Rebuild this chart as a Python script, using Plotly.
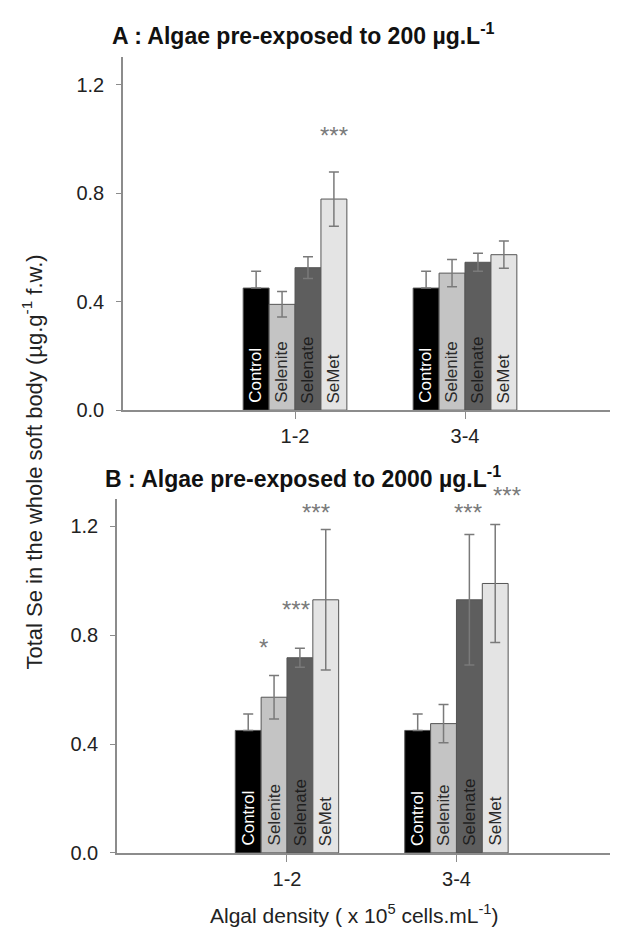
import plotly.graph_objects as go

# ---------------- data ----------------
groups = [1, 2]
group_labels = ["1-2", "3-4"]
treatments = ["Control", "Selenite", "Selenate", "SeMet"]

# Panel A : algae pre-exposed to 200 µg/L
a_values = {
    "Control": [0.45, 0.45],
    "Selenite": [0.39, 0.505],
    "Selenate": [0.525, 0.545],
    "SeMet": [0.778, 0.573],
}
a_errors = {
    "Control": [0.062, 0.062],
    "Selenite": [0.047, 0.05],
    "Selenate": [0.04, 0.033],
    "SeMet": [0.10, 0.05],
}
# Panel B : algae pre-exposed to 2000 µg/L
b_values = {
    "Control": [0.45, 0.45],
    "Selenite": [0.572, 0.475],
    "Selenate": [0.717, 0.93],
    "SeMet": [0.93, 0.99],
}
b_errors = {
    "Control": [0.06, 0.06],
    "Selenite": [0.08, 0.07],
    "Selenate": [0.035, 0.24],
    "SeMet": [0.258, 0.217],
}
# significance marks: (treatment, group index, text, y level)
a_stars = [("SeMet", 0, "***", 0.995)]
b_stars = [
    ("Selenite", 0, "*", 0.735),
    ("Selenate", 0, "***", 0.876),
    ("SeMet", 0, "***", 1.234),
    ("Selenate", 1, "***", 1.232),
    ("SeMet", 1, "***", 1.295),
]
a_star_shift = [0]
b_star_shift = [-11, -4, -10, -1, 12]

y_ticks = [0.0, 0.4, 0.8, 1.2]

# ---------------- style ----------------
FONT = "Liberation Sans, Arial, sans-serif"
bar_colors = {"Control": "#000000", "Selenite": "#c4c4c4", "Selenate": "#5e5e5e", "SeMet": "#e4e4e4"}
label_colors = {"Control": "#ffffff", "Selenite": "#2a2a2a", "Selenate": "#1e1e1e", "SeMet": "#2a2a2a"}
AXIS_COLOR = "#8c8c8c"
ERR_COLOR = "#7a7a7a"
TEXT_COLOR = "#222222"
BARGAP = 0.39
W, H = 618, 929

fig = go.Figure()
bar_w = (1 - BARGAP) / len(treatments)
annotations = []


def bar_center(t, gi):
    i = treatments.index(t)
    return groups[gi] + (i - (len(treatments) - 1) / 2) * bar_w


def add_panel(values, errors, xa, ya):
    for t in treatments:
        err = dict(type="data", array=errors[t], color=ERR_COLOR, thickness=1.5, width=5, visible=True)
        if t == "Control":
            err.update(symmetric=False, arrayminus=[0] * len(errors[t]))
        fig.add_trace(go.Bar(
            x=groups, y=values[t], name=t,
            marker=dict(color=bar_colors[t], line=dict(color="#555555", width=1)),
            error_y=err, cliponaxis=False,
            xaxis=xa, yaxis=ya, showlegend=False, hoverinfo="skip",
        ))
        # rotated label at the base of each bar
        for gi in range(len(groups)):
            annotations.append(dict(
                x=bar_center(t, gi), y=0, xref=xa, yref=ya, text=t, showarrow=False,
                textangle=-90, xanchor="center", yanchor="bottom", yshift=5,
                font=dict(family=FONT, size=17, color=label_colors[t]),
            ))


add_panel(a_values, a_errors, "x", "y")
add_panel(b_values, b_errors, "x2", "y2")


def add_stars(stars, shifts, xref, yref):
    for (t, gi, txt, yv), sh in zip(stars, shifts):
        annotations.append(dict(
            x=bar_center(t, gi), y=yv, xref=xref, yref=yref, text=txt, showarrow=False,
            xanchor="center", yanchor="middle", xshift=sh, yshift=5,
            font=dict(family=FONT, size=24, color="#7a7a7a"),
        ))


add_stars(a_stars, a_star_shift, "x", "y")
add_stars(b_stars, b_star_shift, "x2", "y2")

annotations += [
    dict(text="<b>A : Algae pre-exposed to 200 µg.L<sup>-1</sup></b>", x=102 / W, y=1 - 44 / H,
         xref="paper", yref="paper", xanchor="left", yanchor="bottom", showarrow=False,
         font=dict(family=FONT, size=23, color="#111111")),
    dict(text="<b>B : Algae pre-exposed to 2000 µg.L<sup>-1</sup></b>", x=95 / W, y=1 - 492 / H,
         xref="paper", yref="paper", xanchor="left", yanchor="bottom", showarrow=False,
         font=dict(family=FONT, size=23, color="#111111")),
    dict(text="Algal density ( x 10<sup>5</sup> cells.mL<sup>-1</sup>)", x=346 / W, y=1 - 917 / H,
         xref="paper", yref="paper", xanchor="center", yanchor="middle", showarrow=False,
         font=dict(family=FONT, size=21, color=TEXT_COLOR)),
    dict(text="Total Se in the whole soft body (µg.g<sup>-1</sup> f.w.)", x=24 / W, y=1 - 460 / H,
         xref="paper", yref="paper", xanchor="center", yanchor="middle", textangle=-90, showarrow=False,
         font=dict(family=FONT, size=22, color=TEXT_COLOR)),
]

xcommon = dict(tickvals=groups, ticktext=group_labels, showline=True, linecolor=AXIS_COLOR, linewidth=1.5,
               ticks="outside", ticklen=7, tickcolor=AXIS_COLOR, tickwidth=1.2, showgrid=False, zeroline=False,
               tickfont=dict(family=FONT, size=20, color=TEXT_COLOR), fixedrange=True)
ycommon = dict(range=[0, 1.3], tickvals=y_ticks, tickformat=".1f", showline=True, linecolor=AXIS_COLOR,
               linewidth=1.5, ticks="outside", ticklen=5, tickcolor=AXIS_COLOR, tickwidth=1.2,
               ticklabelstandoff=8,
               showgrid=False, zeroline=False, tickfont=dict(family=FONT, size=20, color=TEXT_COLOR),
               fixedrange=True)

fig.update_layout(
    width=W, height=H, margin=dict(l=0, r=0, t=0, b=0),
    paper_bgcolor="white", plot_bgcolor="white",
    barmode="group", bargap=BARGAP, bargroupgap=0,
    showlegend=False, font=dict(family=FONT),
    xaxis=dict(domain=[115 / W, 602 / W], range=[-0.012, 2.853], anchor="y", **xcommon),
    yaxis=dict(domain=[1 - 407 / H, 1 - 50 / H], anchor="x", **ycommon),
    xaxis2=dict(domain=[109 / W, 602 / W], range=[-0.003, 2.906], anchor="y2", **xcommon),
    yaxis2=dict(domain=[1 - 855 / H, 1 - 497 / H], anchor="x2", **ycommon),
    annotations=annotations,
)

fig.write_html("out.html")
